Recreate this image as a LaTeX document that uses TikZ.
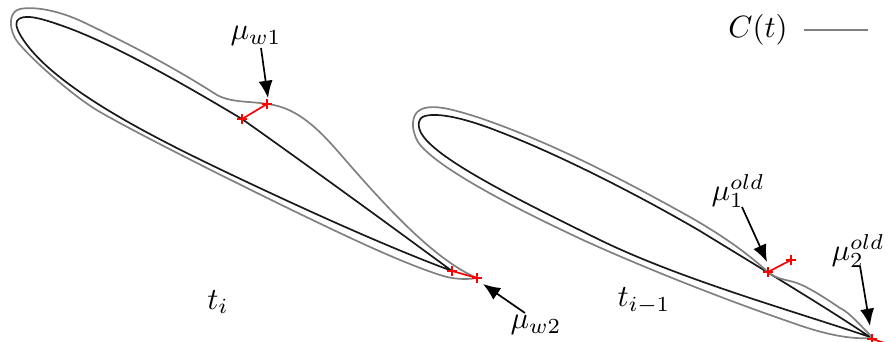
\documentclass[tikz,border=0pt]{standalone}
\usepackage{tikz}
\usetikzlibrary{arrows.meta,shapes.misc}
\tikzset{
    foilline/.style={draw=black!90, line width=.55pt, line join=round},
    ctline/.style={draw=black!50, line width=.55pt, line join=round},
    redline/.style={draw=red, line width=.55pt},
    redmark/.style={draw=red, cross out, rotate=45, inner sep=0pt, minimum size=2pt, line width=.5pt},
    callout/.style={-{Latex[length=5.6pt,width=4.6pt]}, line width=.55pt}
}

\begin{document}
\begin{tikzpicture}[x=.325pt, y=-.325pt]
\clip (0,0) rectangle (891,342);
% airfoil at t_i
\draw[foilline] (452,271) .. controls (380,218) and (300,160) .. (242,119)
    .. controls (180,82) and (110,42) .. (60,25)
    .. controls (40,18) and (22,13) .. (17,21)
    .. controls (13,28) and (28,50) .. (50,69)
    .. controls (95,108) and (165,143) .. (230,174)
    .. controls (310,212) and (390,248) .. (452,271);
\draw[ctline] (477,278) .. controls (440,262) and (400,222) .. (355,171)
    .. controls (330,143) and (305,108) .. (267,104)
    .. controls (250,101) and (232,103) .. (217,95)
    .. controls (170,65) and (125,42) .. (83,22)
    .. controls (60,11) and (35,6) .. (20,9)
    .. controls (10,11) and (8,25) .. (15,38)
    .. controls (22,51) and (72,96) .. (100,112)
    .. controls (140,135) and (230,180) .. (300,214)
    .. controls (350,238) and (400,262) .. (440,275)
    .. controls (452,279) and (465,280) .. (477,278);
% airfoil at t_{i-1}
\draw[foilline] (870,337) .. controls (830,310) and (780,280) .. (700,231)
    .. controls (640,196) and (560,155) .. (500,132)
    .. controls (470,120) and (440,112) .. (425,116)
    .. controls (417,118) and (417,128) .. (423,136)
    .. controls (440,160) and (510,196) .. (600,240)
    .. controls (680,279) and (790,310) .. (870,337);
\draw[ctline] (872,337) .. controls (860,325) and (850,313) .. (840,308)
    .. controls (825,298) and (810,288) .. (797,283)
    .. controls (785,279) and (778,280) .. (768,272)
    .. controls (750,256) and (730,240) .. (690,217)
    .. controls (620,178) and (550,142) .. (480,118)
    .. controls (455,110) and (432,103) .. (420,110)
    .. controls (412,114) and (410,128) .. (418,142)
    .. controls (430,160) and (480,192) .. (583,240)
    .. controls (640,266) and (720,298) .. (790,322)
    .. controls (815,331) and (845,340) .. (872,338);
% red offsets
\node[redmark] (a1) at (242,119) {};
\node[redmark] (b1) at (267,104) {};
\node[redmark] (a2) at (452,271) {};
\node[redmark] (b2) at (477,278) {};
\node[redmark] (a3) at (768,272) {};
\node[redmark] (b3) at (791,260) {};
\node[redmark] (a4) at (872,339) {};
\coordinate (b4) at (891,345);
\draw[redline] (a1.center) -- (b1.center);
\draw[redline] (a2.center) -- (b2.center);
\draw[redline] (a3.center) -- (b3.center);
\draw[redline] (a4.center) -- (b4);
% labels
\node (muw1) at (256,36) {$\mu_{w1}$};
\node (muw2) at (536,325) {$\mu_{w2}$};
\node (muold1) at (738,191) {$\mu_1^{old}$};
\node (muold2) at (858,251) {$\mu_2^{old}$};
\node (ti) at (218,302) {$t_i$};
\node (tim) at (644,301) {$t_{i-1}$};
\node (ct) at (758,30) {$C(t)$};
\coordinate (ctend) at (868,30);
\draw[ctline] ([xshift=1.8pt]ct.east) -- (ctend);
% arrows
\coordinate (from1) at (261,48);
\coordinate (from2) at (525,313);
\coordinate (from3) at (742,207);
\coordinate (from4) at (860,266);
\coordinate (tip1) at (268,98);
\coordinate (tip2) at (483,284);
\coordinate (tip3) at (767,262);
\coordinate (tip4) at (870,326);
\draw[callout] (from1) -- (tip1);
\draw[callout] (from2) -- (tip2);
\draw[callout] (from3) -- (tip3);
\draw[callout] (from4) -- (tip4);
\end{tikzpicture}
\end{document}
